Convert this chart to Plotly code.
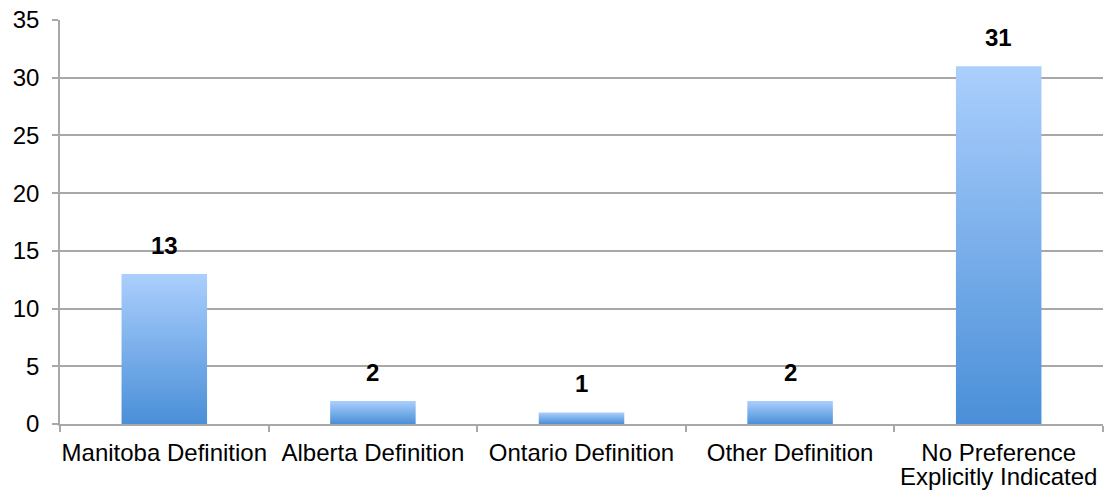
import plotly.graph_objects as go

# Survey responses by preferred definition
categories = [
    "Manitoba Definition",
    "Alberta Definition",
    "Ontario Definition",
    "Other Definition",
    "No Preference\nExplicitly Indicated",
]
counts = [13, 2, 1, 2, 31]
y_ticks = [0, 5, 10, 15, 20, 25, 30, 35]

BAR_WIDTH = 0.41
TOP_COLOR = "#abcffd"
BOTTOM_COLOR = "#4a8fd8"
GRID = "#a8a8a8"
FONT = "Liberation Sans, Arial, Helvetica, sans-serif"
LABEL_SIZE = 24
LINE_STEP = 24  # px between wrapped category-label lines

fig = go.Figure()

# Each bar is a filled rectangle with a vertical gradient (light top, dark bottom)
for i, v in enumerate(counts):
    x0, x1 = i - BAR_WIDTH / 2, i + BAR_WIDTH / 2
    fig.add_trace(go.Scatter(
        x=[x0, x1, x1, x0, x0],
        y=[0, 0, v, v, 0],
        mode="lines",
        line=dict(width=0),
        fill="toself",
        fillgradient=dict(type="vertical",
                          colorscale=[[0, BOTTOM_COLOR], [1, TOP_COLOR]]),
        hoverinfo="skip",
        showlegend=False,
    ))
    fig.add_annotation(
        x=i, y=v, text=f"<b>{v}</b>", showarrow=False,
        yanchor="bottom", yshift=13,
        font=dict(family=FONT, size=LABEL_SIZE, color="black"),
    )

# First line of each category goes on the axis; extra lines are set tighter below it
first_lines = [c.split("\n")[0] for c in categories]
for i, c in enumerate(categories):
    for k, line in enumerate(c.split("\n")[1:], start=1):
        fig.add_annotation(
            x=i, xref="x", y=0, yref="paper", text=line, showarrow=False,
            yanchor="middle", yshift=-(28 + LINE_STEP * k),
            font=dict(family=FONT, size=LABEL_SIZE, color="black"),
        )

fig.update_layout(
    width=1105, height=491,
    margin=dict(l=60, r=2, t=20, b=67, autoexpand=False),
    paper_bgcolor="white", plot_bgcolor="white",
    font=dict(family=FONT, size=LABEL_SIZE, color="black"),
    showlegend=False,
)

fig.update_xaxes(
    range=[-0.5, len(categories) - 0.5],
    tickmode="array", tickvals=list(range(len(categories))), ticktext=first_lines,
    ticks="", showgrid=False, zeroline=False, automargin=False,
    showline=True, linecolor=GRID, linewidth=1.5,
    ticklabelstandoff=6,
    minor=dict(ticks="outside", tick0=-0.5, dtick=1, ticklen=6,
               tickcolor=GRID, tickwidth=1.5, showgrid=False),
    tickfont=dict(family=FONT, size=LABEL_SIZE),
)

fig.update_yaxes(
    range=[0, 35], tickmode="array", tickvals=y_ticks,
    showgrid=True, gridcolor=GRID, gridwidth=1.5, automargin=False,
    zeroline=False, showline=True, linecolor=GRID, linewidth=1.5,
    ticks="outside", ticklen=6, tickcolor=GRID, tickwidth=1.5,
    ticklabelstandoff=8,
    tickfont=dict(family=FONT, size=LABEL_SIZE),
)

fig.write_html("out.html")
